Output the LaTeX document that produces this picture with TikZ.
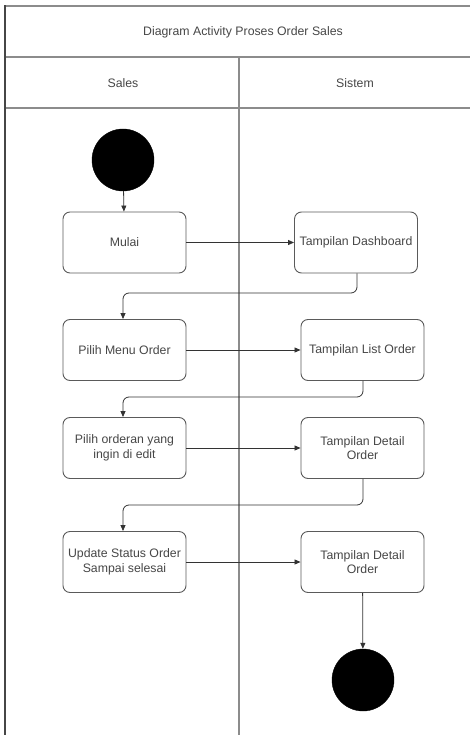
\documentclass[tikz,border=0pt]{standalone}
\usepackage{fontspec}
\setmainfont{Liberation Sans}
\usetikzlibrary{arrows.meta}
\definecolor{frameline}{RGB}{140,140,140}
\definecolor{edgeline}{RGB}{70,70,70}
\definecolor{boxline}{RGB}{90,90,90}
\definecolor{txt}{RGB}{70,70,70}
\begin{document}
\begin{tikzpicture}[x=1pt,y=-1pt,
  frame/.style={draw=frameline,line width=1.3pt},
  activity/.style={draw=boxline,line width=0.9pt,rounded corners=7pt,
    minimum width=123pt,minimum height=61pt,align=center,
    font=\fontsize{12.3}{14.5}\selectfont,text=txt,inner sep=1pt},
  startnode/.style={circle,fill=black,draw=black,minimum size=62pt,inner sep=0pt},
  flow/.style={draw=black!80,line width=0.8pt,-{Triangle[length=6pt,width=5pt]},rounded corners=6pt},
  label/.style={font=\fontsize{12.3}{14.5}\selectfont,text=txt}]
\useasboundingbox (0,0) rectangle (470,735);
\clip (0,0) rectangle (470,735);

% swimlane frame
\draw[frame] (5,6) -- (480,6);
\draw[frame] (5,57) -- (480,57);
\draw[frame] (5,108) -- (480,108);
\draw[frame] (239,57) -- (239,745);
\draw[draw=edgeline,line width=2pt] (5,745) -- (5,5.3);

\node[label] (title) at (243,32) {Diagram Activity Proses Order Sales};
\node[label] (laneA) at (123,83) {Sales};
\node[label] (laneB) at (355,83) {Sistem};

% activities
\node[startnode] (start) at (123,160) {};
\node[activity] (mulai) at (124.5,242.5) {Mulai};
\node[activity] (dash) at (356,242.5) {Tampilan Dashboard};
\node[activity] (menu) at (124.5,350) {Pilih Menu Order};
\node[activity] (list) at (362.5,350) {Tampilan List Order};
\node[activity] (pilih) at (124.5,448) {Pilih orderan yang\\ingin di edit};
\node[activity] (detail1) at (362.5,448) {Tampilan Detail\\Order};
\node[activity] (update) at (124.5,562) {Update Status Order\\Sampai selesai};
\node[activity] (detail2) at (362.5,562) {Tampilan Detail\\Order};
\node[startnode] (stop) at (363,680) {};

% transitions
\draw[flow] (start) -- (mulai);
\draw[flow] (mulai) -- (dash);
\draw[flow] (dash.south -| 357,0) -- (357,293) -- (123,293) -- (menu.north -| 123,0);
\draw[flow] (menu) -- (list);
\draw[flow] (list.south -| 363,0) -- (363,397) -- (123,397) -- (pilih.north -| 123,0);
\draw[flow] (pilih) -- (detail1);
\draw[flow] (detail1.south -| 363,0) -- (363,505) -- (123,505) -- (update.north -| 123,0);
\draw[flow] (update) -- (detail2);
\draw[flow] (detail2) -- (stop);
\end{tikzpicture}
\end{document}
